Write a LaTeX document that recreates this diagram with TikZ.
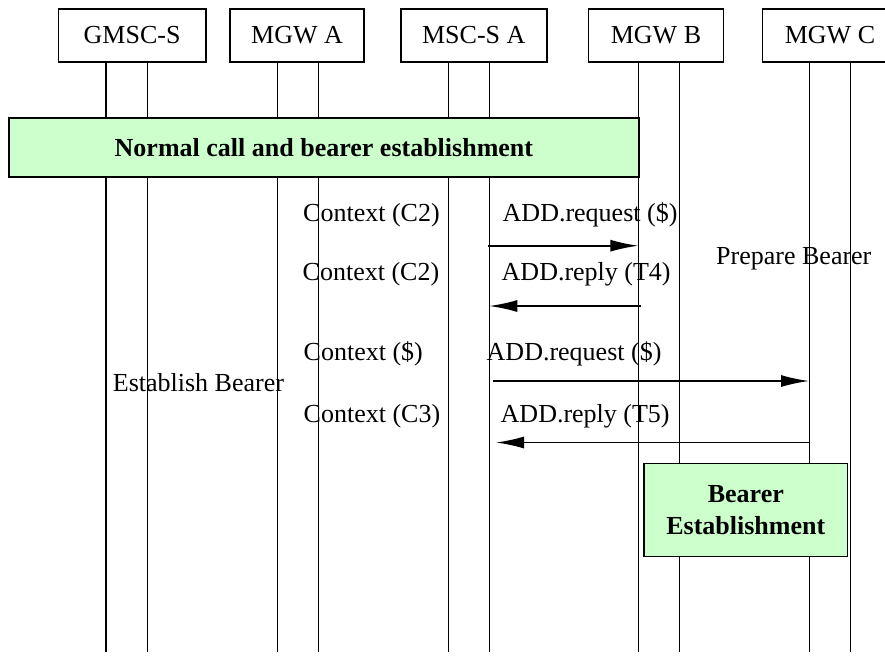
\documentclass[tikz,border=0pt]{standalone}
\usepackage{fontspec}
\setmainfont{Liberation Serif}
\usetikzlibrary{arrows.meta}
\definecolor{boxgreen}{HTML}{CCFFCC}
\begin{document}
\begin{tikzpicture}[x=1pt,y=-1pt,
  ent/.style={draw, line width=1.5pt, inner sep=0pt, anchor=north west,
    minimum height=52.7pt, font=\fontsize{26}{30}\selectfont},
  phase/.style={draw, line width=1.5pt, fill=boxgreen, inner sep=0pt, anchor=north west,
    align=center, font=\fontsize{26}{32}\selectfont\bfseries},
  lbl/.style={inner sep=0pt, anchor=base west, font=\fontsize{26}{30}\selectfont},
  life/.style={line width=1.5pt},
  msg/.style={line width=1.6pt, -{Latex[length=28pt,width=12pt]}}]
\useasboundingbox (0,0) rectangle (885,657);

% entity boxes
\node[ent, minimum width=147.3pt] (gm) at (57.7,8.3) {GMSC-S};
\node[ent, minimum width=134pt] (ma) at (229.3,8.3) {MGW A};
\node[ent, minimum width=146pt] (ms) at (400,8.3) {MSC-S A};
\node[ent, minimum width=135pt] (mb) at (587.7,8.3) {MGW B};
\node[ent, minimum width=135pt] (mc) at (761.7,8.3) {MGW C};

% labels
\node[lbl] (t1) at (303,221.5) {Context (C2)};
\node[lbl] (t2) at (502.5,221.5) {ADD.request (\$)};
\node[lbl] (t3) at (302.5,280.5) {Context (C2)};
\node[lbl] (t4) at (501.5,280.5) {ADD.reply (T4)};
\node[lbl] (t5) at (716,264) {Prepare Bearer};
\node[lbl] (t6) at (303.5,360.5) {Context (\$)};
\node[lbl] (t7) at (486.5,360.5) {ADD.request (\$)};
\node[lbl] (t8) at (112.7,391) {Establish Bearer};
\node[lbl] (t9) at (303.5,422) {Context (C3)};
\node[lbl] (t10) at (500.5,422) {ADD.reply (T5)};

% lifelines
\foreach \n/\x in {a1/106,a2/147.3,b1/277.5,b2/318.5,c1/448.5,c2/489.3,d1/638.3,d2/679.3,e1/809.3,e2/850.3}{
  \coordinate (\n t) at (\x,61);
  \coordinate (\n b) at (\x,652);
  \draw[life] (\n t) -- (\n b);
}

% phase boxes
\node[phase, minimum width=630.3pt, minimum height=59pt] (nc) at (8,117.3)
  {Normal call and bearer establishment};
\node[phase, minimum width=203.5pt, minimum height=93pt] (be) at (643.3,462.7)
  {Bearer\\Establishment};

% messages
\coordinate (m1s) at (488.3,245.7);
\coordinate (m1e) at (638.3,245.7);
\coordinate (m2s) at (640.7,306);
\coordinate (m2e) at (489.3,306);
\coordinate (m3s) at (492.5,381);
\coordinate (m3e) at (809,381);
\coordinate (m4s) at (810,442.5);
\coordinate (m4e) at (496,442.5);
\draw[msg] (m1s) -- (m1e);
\draw[msg] (m2s) -- (m2e);
\draw[msg] (m3s) -- (m3e);
\draw[msg] (m4s) -- (m4e);
\end{tikzpicture}
\end{document}
